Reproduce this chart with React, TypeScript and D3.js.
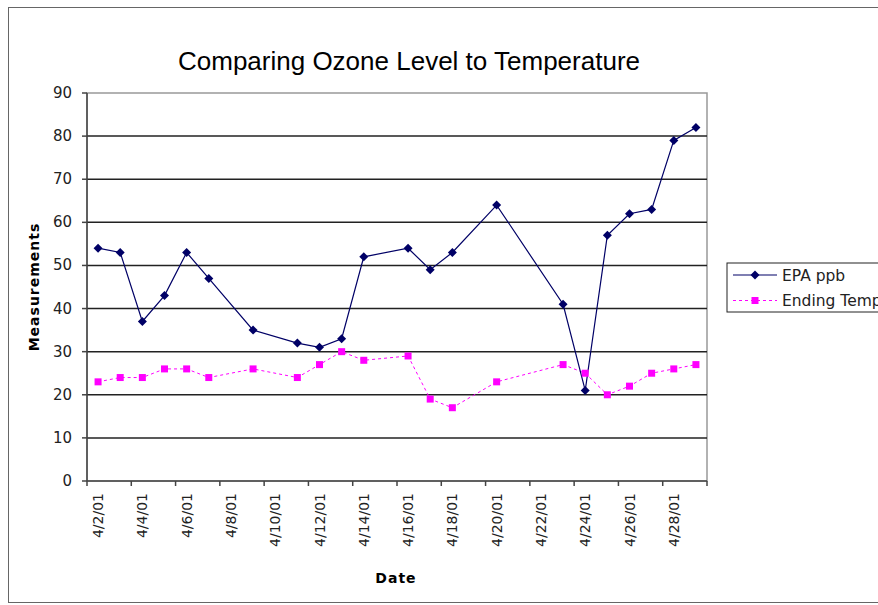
import React from "react";
import * as d3 from "d3";

const dates = ["4/2/01","4/3/01","4/4/01","4/5/01","4/6/01","4/7/01","4/9/01","4/11/01","4/12/01","4/13/01","4/14/01","4/16/01","4/17/01","4/18/01","4/20/01","4/23/01","4/24/01","4/25/01","4/26/01","4/27/01","4/28/01","4/29/01"];
const epaPpb = [54,53,37,43,53,47,35,32,31,33,52,54,49,53,64,41,21,57,62,63,79,82];
const endingTemp = [23,24,24,26,26,24,26,24,27,30,28,29,19,17,23,27,25,20,22,25,26,27];
const yTicks = [0,10,20,30,40,50,60,70,80,90];
const xTickLabels = ["4/2/01","4/4/01","4/6/01","4/8/01","4/10/01","4/12/01","4/14/01","4/16/01","4/18/01","4/20/01","4/22/01","4/24/01","4/26/01","4/28/01"];
const seriesNames = ["EPA ppb", "Ending Temp"];

const dayOf = (s: string) => +s.split("/")[1];

export default function App() {
  const L = 87, R = 707, T = 93, B = 481;
  const x = d3.scaleLinear().domain([1.5, 29.5]).range([L, R]);
  const y = d3.scaleLinear().domain([0, 90]).range([B, T]);
  const line = d3.line<[number, number]>().x(d => x(d[0])).y(d => y(d[1]));
  const epaPts: [number, number][] = dates.map((d, i) => [dayOf(d), epaPpb[i]]);
  const tmpPts: [number, number][] = dates.map((d, i) => [dayOf(d), endingTemp[i]]);
  const boundaries = d3.range(1.5, 29.6, 2);
  const font = "'DejaVu Sans', Verdana, sans-serif";
  const navy = "#000066";
  const mag = "#ff00ff";
  const diamond = (cx: number, cy: number, k: string, r = 4.5) => (
    <path key={k} d={`M${cx},${cy - r}L${cx + r},${cy}L${cx},${cy + r}L${cx - r},${cy}Z`} fill={navy} />
  );
  const square = (cx: number, cy: number, k: string, s = 7) => (
    <rect key={k} x={cx - s / 2} y={cy - s / 2} width={s} height={s} fill={mag} />
  );
  return (
    <svg width={878} height={605} style={{ position: "absolute", left: 0, top: 0, background: "#fff" }}>
      <rect x={8.5} y={7.5} width={880} height={595} fill="#fff" stroke="#666" strokeWidth={1} />
      <text x={409} y={70} textAnchor="middle" fontFamily="'Liberation Sans', Arial, sans-serif" fontSize={26} fill="#000">
        Comparing Ozone Level to Temperature
      </text>
      {/* plot area border */}
      <rect x={L} y={T} width={R - L} height={B - T} fill="#fff" stroke="#999" strokeWidth={1.5} />
      {yTicks.filter(v => v > 0 && v < 90).map(v => (
        <line key={"g" + v} x1={L} x2={R} y1={y(v)} y2={y(v)} stroke="#222" strokeWidth={1.5} />
      ))}
      {/* axes */}
      <line x1={L} x2={L} y1={T} y2={B} stroke="#444" strokeWidth={1.5} />
      <line x1={L} x2={R} y1={B} y2={B} stroke="#444" strokeWidth={1.5} />
      {yTicks.map(v => (
        <g key={"yt" + v}>
          <line x1={L - 5} x2={L} y1={y(v)} y2={y(v)} stroke="#444" strokeWidth={1.5} />
          <text x={72} y={y(v) + 5} textAnchor="end" fontFamily={font} fontSize={15} fill="#222">{v}</text>
        </g>
      ))}
      {boundaries.map(b => (
        <line key={"xt" + b} x1={x(b)} x2={x(b)} y1={B} y2={B + 5} stroke="#444" strokeWidth={1.5} />
      ))}
      {xTickLabels.map(lbl => {
        const cx = x(dayOf(lbl));
        return (
          <text key={lbl} transform={`translate(${cx + 5},493) rotate(-90)`} textAnchor="end" fontFamily={font} fontSize={14} fill="#222">
            {lbl}
          </text>
        );
      })}
      <text transform="translate(39,287) rotate(-90)" textAnchor="middle" fontFamily={font} fontSize={14} fontWeight="bold" letterSpacing={1} fill="#000">
        Measurements
      </text>
      <text x={396} y={583} textAnchor="middle" fontFamily={font} fontSize={14} fontWeight="bold" letterSpacing={1} fill="#000">
        Date
      </text>
      {/* series */}
      <path d={line(tmpPts) || ""} fill="none" stroke={mag} strokeWidth={1} strokeDasharray="3,3" />
      <path d={line(epaPts) || ""} fill="none" stroke={navy} strokeWidth={1.2} />
      {tmpPts.map((p, i) => square(x(p[0]), y(p[1]), "s" + i))}
      {epaPts.map((p, i) => diamond(x(p[0]), y(p[1]), "d" + i))}
      {/* legend */}
      <rect x={727} y={263} width={200} height={49} fill="#fff" stroke="#222" strokeWidth={1} />
      <line x1={733} x2={777} y1={275} y2={275} stroke={navy} strokeWidth={1.2} />
      {diamond(755, 275, "ld")}
      <text x={782} y={280.5} fontFamily={font} fontSize={15.5} fill="#222">{seriesNames[0]}</text>
      <line x1={733} x2={777} y1={300.5} y2={300.5} stroke={mag} strokeWidth={1} strokeDasharray="3,3" />
      {square(755, 300.5, "ls")}
      <text x={782} y={306} fontFamily={font} fontSize={15.5} fill="#222">{seriesNames[1]}</text>
    </svg>
  );
}
